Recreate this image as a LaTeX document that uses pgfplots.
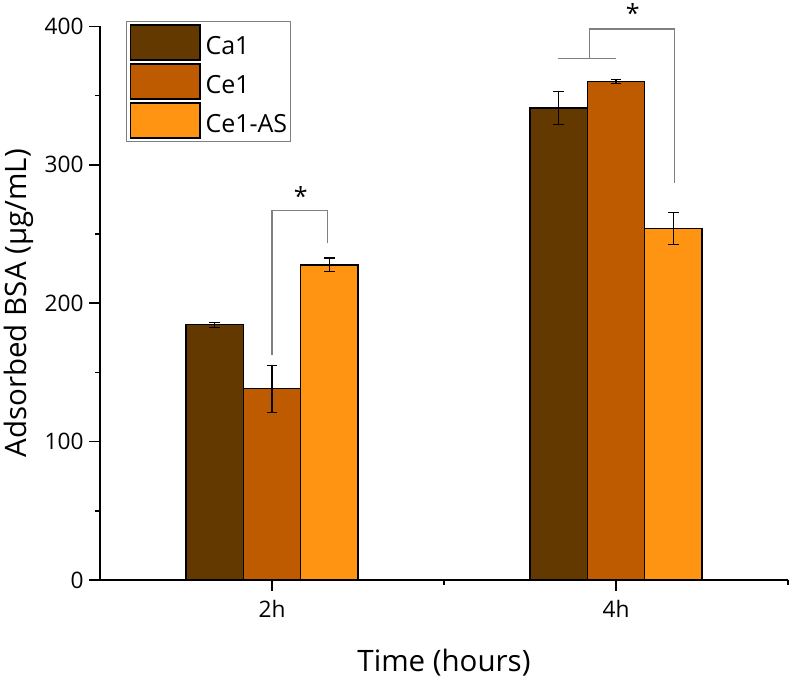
\documentclass[border=0pt]{standalone}
\usepackage{pgfplots}
\pgfplotsset{compat=1.18}
\usepackage{fontspec}
\setmainfont{Open Sans}
\definecolor{caone}{RGB}{99,57,0}
\definecolor{ceone}{RGB}{190,90,0}
\definecolor{ceas}{RGB}{255,148,18}
\definecolor{brk}{RGB}{128,128,128}
\pgfplotsset{
  myerr/.style={
    error bars/y dir=both, error bars/y explicit,
    error bars/error bar style={black, line width=1.1pt},
    error bars/error mark options={rotate=90, mark size=5.3pt, line width=1.1pt, black}
  }
}
\begin{document}
\begin{tikzpicture}
\begin{axis}[
  width=688pt, height=553.5pt, scale only axis,
  xmin=0.5, xmax=2.5, ymin=0, ymax=400,
  enlargelimits=false, clip=false,
  axis lines=left,
  axis line style={-, line width=1.8pt, black},
  tick align=outside,
  major tick length=10.7pt, minor tick length=5pt,
  every tick/.style={black, line width=1.5pt},
  xtick={1,2}, xticklabels={2h,4h},
  minor xtick={1.5,2.5},
  ytick={0,100,200,300,400},
  minor ytick={50,150,250,350},
  /pgf/number format/assume math mode=true,
  ticklabel style={font=\fontsize{22.7}{26}\selectfont, inner sep=0pt},
  yticklabel style={anchor=east, xshift=-5.5pt},
  xticklabel style={anchor=base, yshift=-26.9pt},
  xlabel={Time (hours)}, ylabel={Adsorbed BSA (μg/mL)},
  every axis x label/.style={at={(axis description cs:0.5,-0.1662)}, anchor=base,
    font=\fontsize{29.5}{34}\selectfont, inner sep=0pt},
  every axis y label/.style={at={(axis description cs:-0.10654,0.5)}, rotate=90, anchor=base,
    font=\fontsize{29.5}{34}\selectfont, inner sep=0pt},
  legend style={at={(axis description cs:0.03735,1.0099)}, anchor=north west,
    draw=brk, line width=1pt, fill=white, inner xsep=3.6pt, inner ysep=2.7pt,
    row sep=2.7pt, column sep=5pt, font=\fontsize{25}{30}\selectfont,
    nodes={inner sep=0pt, text depth=0.15em}},
  legend cell align=left,
]
\addplot[ybar, bar width=57.3pt, bar shift=0pt, fill=caone, draw=black, line width=1.3pt, myerr,
  legend image code/.code={%
    \draw[fill=caone, draw=black, line width=1.3pt] (0.65pt,-13.85pt) rectangle (70.05pt,21.15pt);}]
  coordinates {(0.83343,184.4) +- (0,2) (1.83343,341.1) +- (0,12)};
\addlegendentry{Ca1}
\addplot[ybar, bar width=57.3pt, bar shift=0pt, fill=ceone, draw=black, line width=1.3pt, myerr,
  legend image code/.code={%
    \draw[fill=ceone, draw=black, line width=1.3pt] (0.65pt,-13.85pt) rectangle (70.05pt,21.15pt);}]
  coordinates {(1,138.2) +- (0,17) (2,360.1) +- (0,1.5)};
\addlegendentry{Ce1}
\addplot[ybar, bar width=57.3pt, bar shift=0pt, fill=ceas, draw=black, line width=1.3pt, myerr,
  legend image code/.code={%
    \draw[fill=ceas, draw=black, line width=1.3pt] (0.65pt,-13.85pt) rectangle (70.05pt,21.15pt);}]
  coordinates {(1.16657,227.7) +- (0,5) (2.16657,254.2) +- (0,11.5)};
\addlegendentry{Ce1-AS}
\addplot[brk, line width=1.3pt, mark=none, forget plot]
  coordinates {(1.0,162.5) (1.0,266.9) (1.162,266.9) (1.162,243.6)};
\addplot[brk, line width=1.3pt, mark=none, forget plot]
  coordinates {(1.8305,376.7) (2.0,376.7)};
\addplot[brk, line width=1.3pt, mark=none, forget plot]
  coordinates {(1.922,376.7) (1.922,398.1) (2.1695,398.1) (2.1695,286.9)};
\node[font=\fontsize{25}{30}\selectfont, anchor=base, inner sep=0pt] at (axis cs:1.0833,270.8) {*};
\node[font=\fontsize{25}{30}\selectfont, anchor=base, inner sep=0pt] at (axis cs:2.0485,403.2) {*};
\coordinate (bbsw) at (rel axis cs:-0.14535,-0.18483);
\coordinate (bbne) at (rel axis cs:1.00436,1.04788);
\end{axis}
\pgfresetboundingbox
\useasboundingbox (bbsw) rectangle (bbne);
\end{tikzpicture}
\end{document}
